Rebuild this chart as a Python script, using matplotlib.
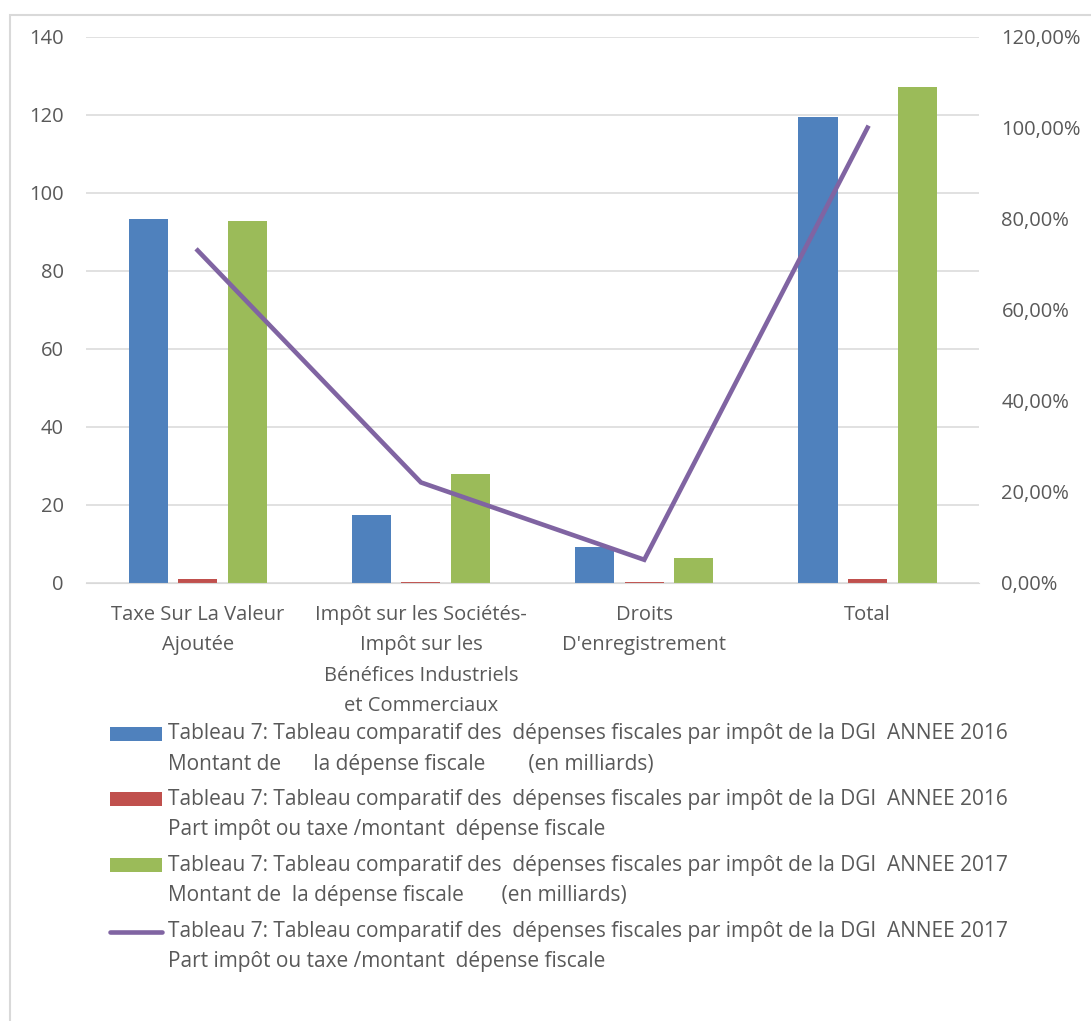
import matplotlib
matplotlib.use("Agg")
import matplotlib.pyplot as plt
from matplotlib.patches import Rectangle
from matplotlib.lines import Line2D
from matplotlib.ticker import FuncFormatter

plt.rcParams["font.family"] = ["Open Sans", "DejaVu Sans"]

categories = [
    "Taxe Sur La Valeur\nAjoutée",
    "Impôt sur les Sociétés-\nImpôt sur les\nBénéfices Industriels\net Commerciaux",
    "Droits\nD'enregistrement",
    "Total",
]
montant_2016 = [93.3, 17.3, 9.0, 119.5]
part_2016 = [0.78, 0.14, 0.08, 1.00]
montant_2017 = [92.8, 27.9, 6.4, 127.1]
part_2017 = [0.73, 0.22, 0.05, 1.00]

series_labels = [
    "Tableau 7: Tableau comparatif des  dépenses fiscales par impôt de la DGI  ANNEE 2016\n"
    "Montant de      la dépense fiscale        (en milliards)",
    "Tableau 7: Tableau comparatif des  dépenses fiscales par impôt de la DGI  ANNEE 2016\n"
    "Part impôt ou taxe /montant  dépense fiscale",
    "Tableau 7: Tableau comparatif des  dépenses fiscales par impôt de la DGI  ANNEE 2017\n"
    "Montant de  la dépense fiscale       (en milliards)",
    "Tableau 7: Tableau comparatif des  dépenses fiscales par impôt de la DGI  ANNEE 2017\n"
    "Part impôt ou taxe /montant  dépense fiscale",
]

BLUE, RED, GREEN, PURPLE = "#4f81bd", "#c0504d", "#9bbb59", "#8064a2"
TEXT = "#595959"
GRID = "#d9d9d9"
FS_TICK = 14.5
FS_LEG = 15

W, H = 1091, 1021
fig = plt.figure(figsize=(W / 100, H / 100), dpi=100)

# outer chart frame (runs off the right and bottom edges)
fig.add_artist(Rectangle((9.5 / W, -0.05), 1.2, 1 - 15 / H + 0.05, transform=fig.transFigure,
                         fill=False, edgecolor=GRID, lw=1.5))

ax = fig.add_axes([86 / W, 1 - 582.5 / H, 893.2 / W, 545.8 / H])
x = list(range(len(categories)))
width, step = 0.175, 0.222
ax.bar([i - step for i in x], montant_2016, width, color=BLUE)
ax.bar(x, part_2016, width, color=RED)
ax.bar([i + step for i in x], montant_2017, width, color=GREEN)
ax.set_xlim(-0.5, 3.5)
ax.set_ylim(0, 140)
ax.set_yticks(range(0, 141, 20))
ax.set_xticks(x)
ax.set_xticklabels(categories, linespacing=1.7)
ax.set_axisbelow(True)
ax.grid(axis="y", color=GRID, lw=1.1)
ax.tick_params(axis="y", length=0, pad=16, labelsize=FS_TICK, labelcolor=TEXT)
ax.tick_params(axis="x", length=0, pad=16, labelsize=FS_TICK, labelcolor=TEXT)
for s in ax.spines.values():
    s.set_visible(False)
ax.spines["bottom"].set_visible(True)
ax.spines["bottom"].set_color(GRID)

ax2 = ax.twinx()
ax2.plot(x, part_2017, color=PURPLE, lw=3.3, solid_joinstyle="miter")
ax2.set_ylim(0, 1.2)
ax2.set_yticks([i / 5 for i in range(7)])
ax2.yaxis.set_major_formatter(FuncFormatter(lambda v, _: f"{v * 100:.2f}".replace(".", ",") + "%"))
ax2.tick_params(axis="y", length=0, pad=16, labelsize=FS_TICK, labelcolor=TEXT)
for s in ax2.spines.values():
    s.set_visible(False)

# legend drawn by hand so each key sits on the first line of its label
baselines = [740.7, 806, 872, 938]
line_gap = 29.3
colors = [BLUE, RED, GREEN]
for k, (label, base) in enumerate(zip(series_labels, baselines)):
    if k < 3:
        fig.add_artist(Rectangle((110 / W, 1 - base / H), 52 / W, 14 / H,
                                 transform=fig.transFigure, color=colors[k], lw=0))
    else:
        fig.add_artist(Line2D([110 / W, 162 / W], [1 - 932 / H] * 2, transform=fig.transFigure,
                              color=PURPLE, lw=3.3, solid_capstyle="round"))
    # multiline text anchors on its last baseline
    fig.text(168 / W, 1 - (base + line_gap) / H, label, va="baseline", ha="left", fontsize=FS_LEG,
             color=TEXT, linespacing=1.6)

fig.savefig("out.png", dpi=100)
